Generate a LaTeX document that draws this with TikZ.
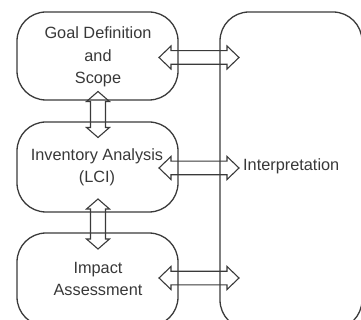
\documentclass[tikz,border=0pt]{standalone}
\usepackage{fontspec}
\setmainfont{Liberation Sans}
\usetikzlibrary{calc}
\definecolor{ln}{HTML}{3A3A3A}
\definecolor{tx}{HTML}{383838}
\tikzset{
  box/.style={draw=ln, line width=1.3pt, rounded corners=29pt, align=center,
    text=tx, font=\fontsize{16.3}{22.5}\selectfont, inner sep=0pt},
  arr/.style={draw=ln, line width=1.1pt, fill=white, line join=miter},
  lbl/.style={text=tx, font=\fontsize{16.3}{22.5}\selectfont, inner sep=0pt}
}
\newcommand\hdbl[2]{\draw[arr] let \p1=(#1), \p2=(#2) in
  (\x1,\y1) -- (\x1+12,\y1+11.5) -- (\x1+12,\y1+6.8) -- (\x2-12,\y1+6.8) -- (\x2-12,\y1+11.5)
  -- (\x2,\y1) -- (\x2-12,\y1-11.5) -- (\x2-12,\y1-6.8) -- (\x1+12,\y1-6.8) -- (\x1+12,\y1-11.5) -- cycle;}
\newcommand\vdbl[2]{\draw[arr] let \p1=(#1), \p2=(#2) in
  (\x1,\y1) -- (\x1+11.5,\y1-10) -- (\x1+7.5,\y1-10) -- (\x1+7.5,\y2+10) -- (\x1+11.5,\y2+10)
  -- (\x1,\y2) -- (\x1-11.5,\y2+10) -- (\x1-7.5,\y2+10) -- (\x1-7.5,\y1-10) -- (\x1-11.5,\y1-10) -- cycle;}
\begin{document}
\begin{tikzpicture}[x=1pt,y=1pt]
\useasboundingbox (0,0) rectangle (361,-320);
\clip (0,0) rectangle (361,-320);
% coordinates for arrows
\coordinate (h1a) at (159,-57.5);
\coordinate (h1b) at (239,-57.5);
\coordinate (h2a) at (159,-168);
\coordinate (h2b) at (239,-168);
\coordinate (h3a) at (159,-278);
\coordinate (h3b) at (239,-278);
\coordinate (v1a) at (98,-91.5);
\coordinate (v1b) at (98,-137.5);
\coordinate (v2a) at (98,-199);
\coordinate (v2b) at (98,-249);
% arrows (behind box outlines)
\hdbl{h1a}{h1b}
\hdbl{h2a}{h2b}
\hdbl{h3a}{h3b}
\vdbl{v1a}{v1b}
\vdbl{v2a}{v2b}
% boxes
\node[box, minimum width=161pt, minimum height=88pt] (goal) at (97.5,-56) {};
\node[box, minimum width=161pt, minimum height=90pt] (inv) at (97.5,-167) {};
\node[box, minimum width=161pt, minimum height=93pt] (imp) at (97.5,-279.5) {};
\node[box, minimum width=142pt, minimum height=317pt] (interp) at (291,-170.5) {};
% labels
\node[lbl, align=center] (tgoal) at (98,-57) {Goal Definition\\and\\Scope};
\node[lbl, align=center] (tinv) at (97,-167.5) {Inventory Analysis\\(LCI)};
\node[lbl, align=center] (timp) at (98,-279) {Impact\\Assessment};
\node[lbl, anchor=west] (tint) at (243,-166.5) {Interpretation};
\end{tikzpicture}
\end{document}
